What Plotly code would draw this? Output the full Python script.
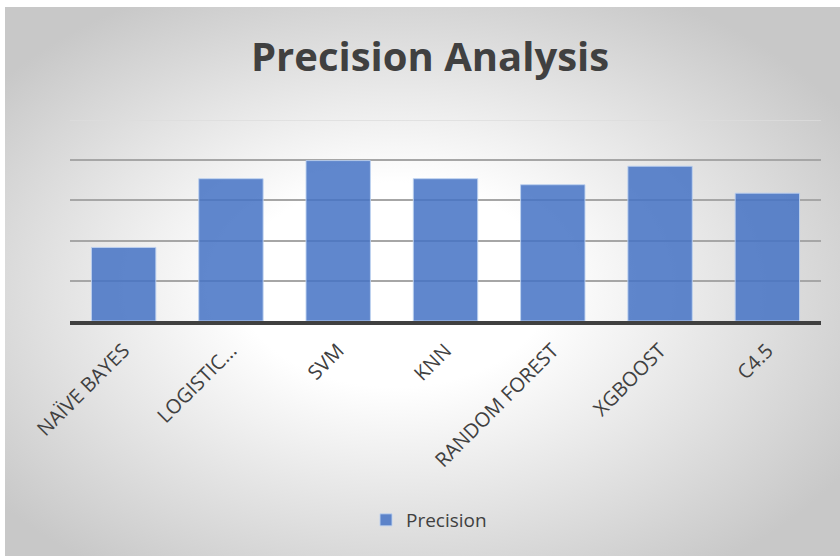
import base64
import plotly.graph_objects as go

categories = ["Naïve Bayes", "Logistic Regression", "SVM", "KNN", "Random Forest", "XGBoost", "C4.5"]
tick_labels = ["NAÏVE BAYES", "LOGISTIC...", "SVM", "KNN", "RANDOM FOREST", "XGBOOST", "C4.5"]
precision = [1.83, 3.54, 3.99, 3.54, 3.39, 3.85, 3.18]
series_name = "Precision"
title_text = "Precision Analysis"

W, H = 840, 556
ML, MR, MT, MB = 70, 19, 120, 235
PW, PH = W - ML - MR, H - MT - MB

svg = f'''<svg xmlns="http://www.w3.org/2000/svg" width="{W-5}" height="{H-7}" viewBox="0 0 {W-5} {H-7}" preserveAspectRatio="none">
<defs><radialGradient id="g" cx="48%" cy="52%" r="62%" fx="46%" fy="50%">
<stop offset="0%" stop-color="#ffffff"/><stop offset="30%" stop-color="#ffffff"/>
<stop offset="100%" stop-color="#c8c8c8"/></radialGradient></defs>
<rect width="100%" height="100%" fill="url(#g)"/></svg>'''
src = "data:image/svg+xml;base64," + base64.b64encode(svg.encode()).decode()

fig = go.Figure()
fig.add_trace(go.Bar(
    x=categories, y=precision, name=series_name,
    marker=dict(color="rgba(68,114,196,0.85)", line=dict(color="rgba(190,210,240,0.9)", width=1)),
    width=0.6, showlegend=True,
))

fig.add_layout_image(dict(
    source=src, xref="paper", yref="paper",
    x=(5 - ML) / PW, y=1 + (MT - 7) / PH,
    sizex=(W - 5) / PW, sizey=(H - 7) / PH,
    sizing="stretch", layer="below", xanchor="left", yanchor="top",
))
fig.add_shape(type="line", xref="paper", yref="y", x0=0, x1=1, y0=5, y1=5,
              line=dict(color="#dcdcdc", width=1.5), layer="below")

fig.update_layout(
    width=W, height=H,
    margin=dict(l=ML, r=MR, t=MT, b=MB),
    paper_bgcolor="white", plot_bgcolor="rgba(0,0,0,0)",
    title=dict(text=f"<b>{title_text}</b>", x=0.512, xanchor="center", y=1 - 57 / H, yanchor="middle",
               yref="container", font=dict(family="Open Sans", size=40, color="#404040")),
    bargap=0.4,
    legend=dict(orientation="h", x=(429 - ML) / PW, xanchor="center", y=-(520 - (MT + PH)) / PH, yanchor="middle",
                font=dict(family="Open Sans", size=19, color="#404040"), bgcolor="rgba(0,0,0,0)",
                itemwidth=30),
    font=dict(family="Open Sans", color="#404040"),
)
fig.update_xaxes(tickvals=categories, ticktext=tick_labels, tickangle=-45,
                 tickfont=dict(family="Open Sans", size=20, color="#404040"),
                 ticklabelstandoff=6,
                 showline=True, linecolor="#404040", linewidth=4, ticks="", showgrid=False)
fig.update_yaxes(range=[0, 5], tickvals=[1, 2, 3, 4], showticklabels=False, showgrid=True,
                 gridcolor="#a6a6a6", gridwidth=1.5, zeroline=False, showline=False)

fig.write_html("out.html")
